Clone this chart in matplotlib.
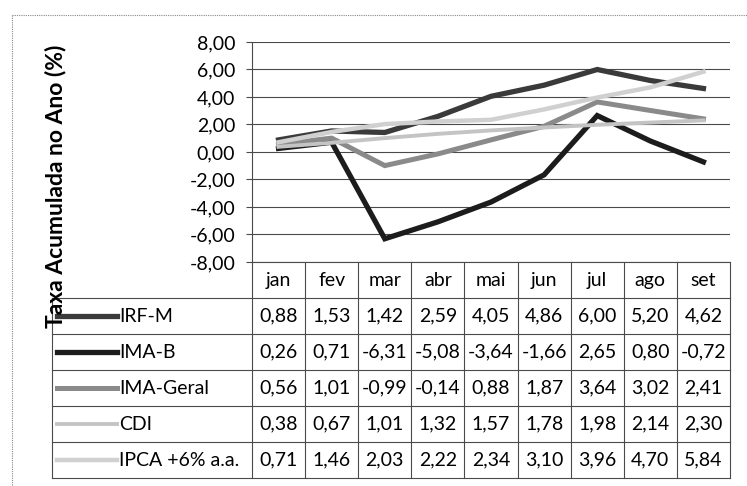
import numpy as np
import matplotlib.pyplot as plt
from matplotlib.lines import Line2D

plt.rcParams['font.family'] = ['Lato', 'DejaVu Sans']

# data
meses = ['jan', 'fev', 'mar', 'abr', 'mai', 'jun', 'jul', 'ago', 'set']
series = ['IRF-M', 'IMA-B', 'IMA-Geral', 'CDI', 'IPCA +6% a.a.']
irfm = [0.88, 1.53, 1.42, 2.59, 4.05, 4.86, 6.00, 5.20, 4.62]
imab = [0.26, 0.71, -6.31, -5.08, -3.64, -1.66, 2.65, 0.80, -0.72]
imageral = [0.56, 1.01, -0.99, -0.14, 0.88, 1.87, 3.64, 3.02, 2.41]
cdi = [0.38, 0.67, 1.01, 1.32, 1.57, 1.78, 1.98, 2.14, 2.30]
ipca6 = [0.71, 1.46, 2.03, 2.22, 2.34, 3.10, 3.96, 4.70, 5.84]
valores = [irfm, imab, imageral, cdi, ipca6]
cores = ['#3a3a3a', '#1c1c1c', '#8a8a8a', '#c4c4c4', '#d0d0d0']
larguras = [3.8, 3.8, 3.6, 2.8, 3.2]

W, H = 747, 486
fig = plt.figure(figsize=(W / 100, H / 100), dpi=100)

def fmt(v):
    return ('%.2f' % v).replace('.', ',')

# chart area (pixel coords)
x0, x1, ytop, ybot = 252, 730, 42, 262
ax = fig.add_axes([x0 / W, 1 - ybot / H, (x1 - x0) / W, (ybot - ytop) / H])
x = np.arange(len(meses))
for vals, c, lw in zip(valores, cores, larguras):
    ax.plot(x, vals, color=c, lw=lw, solid_joinstyle='miter', zorder=3)
ax.set_xlim(-0.5, len(meses) - 0.5)
ax.set_ylim(-8, 8)
ax.set_yticks(np.arange(-8, 9, 2))
ax.set_yticklabels([fmt(v) for v in np.arange(-8, 9, 2)], fontsize=14)
ax.set_xticks([])
ax.yaxis.grid(True, color='#4a4a4a', lw=0.8)
ax.tick_params(axis='y', length=4, width=0.8, color='#4a4a4a', pad=8)
for s in ['top', 'right', 'bottom']:
    ax.spines[s].set_visible(False)
ax.spines['left'].set_color('#4a4a4a')
ax.set_axisbelow(True)

# overlay in pixel coords for the data table
ov = fig.add_axes([0, 0, 1, 1], facecolor='none')
ov.set_xlim(0, W)
ov.set_ylim(H, 0)
ov.axis('off')

gc = '#4a4a4a'
col_w = (x1 - x0) / len(meses)
row_h = 36
t_top = ybot
leg_left = 52
n_rows = len(series)
t_bot = t_top + row_h * (n_rows + 1)

# header row
ov.plot([x0, x1], [t_top, t_top], color=gc, lw=0.8)
for i, m in enumerate(meses):
    ov.text(x0 + (i + 0.5) * col_w, t_top + row_h / 2, m, ha='center', va='center', fontsize=14)
# horizontal lines
for r in range(1, n_rows + 2):
    ov.plot([leg_left, x1], [t_top + r * row_h] * 2, color=gc, lw=0.8)
# vertical lines
for i in range(len(meses) + 1):
    ov.plot([x0 + i * col_w] * 2, [t_top, t_bot], color=gc, lw=0.8)
ov.plot([leg_left, leg_left], [t_top + row_h, t_bot], color=gc, lw=0.8)

for r, (nome, vals, c, lw) in enumerate(zip(series, valores, cores, larguras)):
    yc = t_top + (r + 1.5) * row_h
    ov.add_line(Line2D([57, 117], [yc, yc], color=c, lw=lw))
    ov.text(119, yc, nome, ha='left', va='center', fontsize=14)
    for i, v in enumerate(vals):
        ov.text(x0 + (i + 0.5) * col_w, yc, fmt(v), ha='center', va='center', fontsize=14)

# outer chart border
ov.plot([12, 12], [15, H], color='#888888', lw=0.8, ls=(0, (1, 1)))
ov.plot([12, W], [15, 15], color='#888888', lw=0.8, ls=(0, (1, 1)))

# y label
ov.text(55, 186, 'Taxa Acumulada no Ano (%)', rotation=90, ha='center', va='center',
        fontsize=16.5, fontweight='bold')

fig.savefig('out.png', dpi=100)
